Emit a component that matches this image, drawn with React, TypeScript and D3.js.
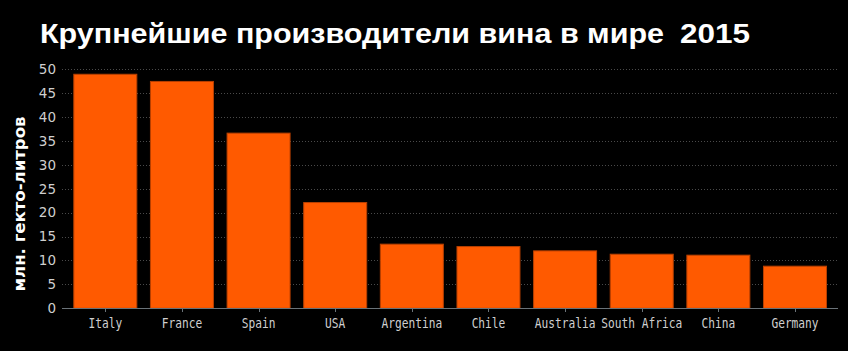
import React from "react";
import * as d3 from "d3";

const countries = ["Italy", "France", "Spain", "USA", "Argentina", "Chile", "Australia", "South Africa", "China", "Germany"];
const production = [48.9, 47.4, 36.6, 22.1, 13.4, 12.9, 12.0, 11.3, 11.1, 8.8];
const yTicks = [0, 5, 10, 15, 20, 25, 30, 35, 40, 45, 50];
const titleText = "Крупнейшие производители вина в мире";
const yearText = "2015";
const yLabel = "млн. гекто-литров";

const W = 848;
const H = 351;

export default function App() {
  const x = d3.scaleBand<string>().domain(countries).range([67, 833.3]).paddingInner(0.178).paddingOuter(0.089);
  const y = d3.scaleLinear().domain([0, 50]).range([308.3, 69]);
  const gridX0 = 62;
  const gridX1 = 838;
  return (
    <div style={{ position: "absolute", left: 0, top: 0, width: W, height: H, background: "#000" }}>
      <svg width={W} height={H} style={{ display: "block" }}>
        <rect x={0} y={0} width={W} height={H} fill="#000" />
        <text x={40} y={43} fontFamily="'Liberation Sans', Arial, sans-serif" fontWeight="bold" fontSize={28} fill="#fff" textLength={624} lengthAdjust="spacingAndGlyphs">{titleText}</text>
        <text x={680} y={43} fontFamily="'Liberation Sans', Arial, sans-serif" fontWeight="bold" fontSize={28} fill="#fff" textLength={70} lengthAdjust="spacingAndGlyphs">{yearText}</text>
        {yTicks.filter((t) => t > 0).map((t) => (
          <line key={"g" + t} x1={gridX0} x2={gridX1} y1={Math.round(y(t)) + 0.5} y2={Math.round(y(t)) + 0.5} stroke="#4a4a4a" strokeWidth={1} strokeDasharray="1,2" />
        ))}
        {yTicks.map((t) => (
          <text key={"t" + t} x={56} y={y(t)} dy="0.36em" textAnchor="end" fontFamily="'DejaVu Sans', Verdana, sans-serif" fontSize={13.5} fill="#cfcfcf">{t}</text>
        ))}
        {countries.map((c, i) => (
          <rect key={c} x={x(c)!} y={y(production[i])} width={x.bandwidth()} height={y(0) - y(production[i])} fill="#ff5a00" stroke="#b84000" strokeWidth={1} />
        ))}
        <line x1={gridX0} x2={gridX1} y1={308.5} y2={308.5} stroke="#6a7278" strokeWidth={1} />
        {countries.map((c) => {
          const cx = x(c)! + x.bandwidth() / 2;
          return (
            <g key={"x" + c}>
              <line x1={Math.round(cx) + 0.5} x2={Math.round(cx) + 0.5} y1={308.5} y2={312} stroke="#6a7278" strokeWidth={1} />
              <g transform={`translate(${cx},328.3) scale(0.8,1)`}>
                <text x={0} y={0} textAnchor="middle" fontFamily="'DejaVu Sans Mono', monospace" fontSize={14} fill="#cfcfcf">{c}</text>
              </g>
            </g>
          );
        })}
        <text transform={`translate(25,204) rotate(-90)`} x={0} y={0} textAnchor="middle" fontFamily="'DejaVu Sans', Verdana, sans-serif" fontWeight="bold" fontSize={15} fill="#fff" textLength={175} lengthAdjust="spacingAndGlyphs">{yLabel}</text>
      </svg>
    </div>
  );
}
